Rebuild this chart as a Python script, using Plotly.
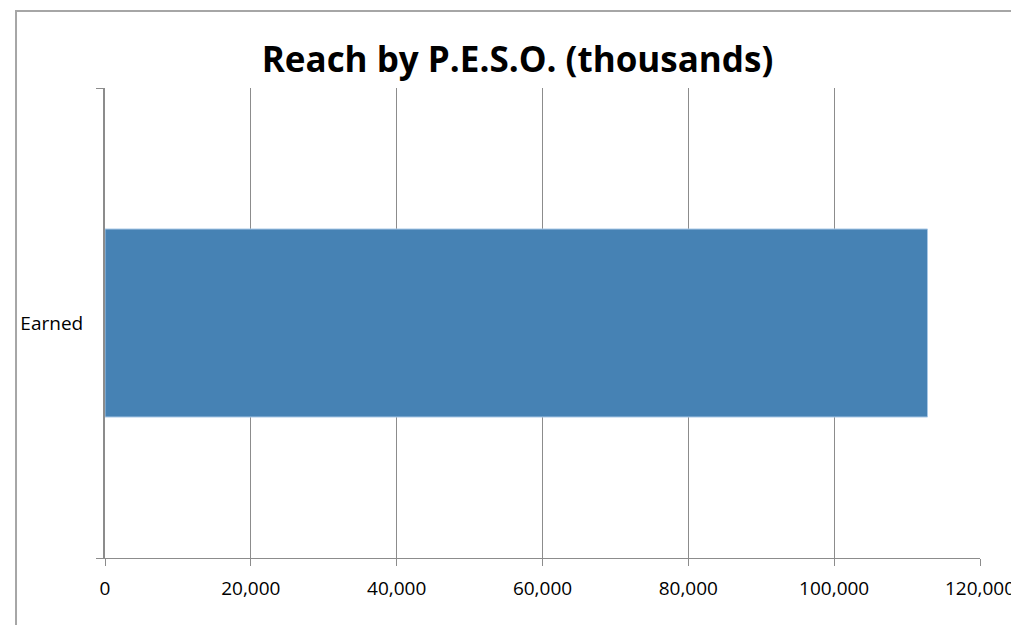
import plotly.graph_objects as go

categories = ["Earned"]
values = [112800]
tick_vals = [0, 20000, 40000, 60000, 80000, 100000, 120000]
tick_text = ["0", "20,000", "40,000", "60,000", "80,000", "100,000", "120,000"]

W, H = 1019, 625
L, R, T, B = 95, 39, 80, 75
pw, ph = W - L - R, H - T - B

fig = go.Figure(go.Bar(
    x=values, y=categories, orientation="h",
    marker=dict(color="#4682B4", line=dict(color="#A9C8E6", width=1)),
    hoverinfo="x+y",
))

def px_x(p):
    return (p - L) / pw

def px_y(p):
    return (H - B - p) / ph

fig.update_layout(
    width=W, height=H,
    margin=dict(l=L, r=R, t=T, b=B),
    paper_bgcolor="white", plot_bgcolor="white",
    bargap=0.6,
    showlegend=False,
    font=dict(family="Open Sans, Liberation Sans, sans-serif", size=19, color="black"),
    title=dict(text="<b>Reach by P.E.S.O. (thousands)</b>", x=0.5, xanchor="center",
               y=1 - 52 / H, yanchor="middle",
               font=dict(family="Open Sans, Liberation Sans, sans-serif", size=35, color="black")),
    xaxis=dict(range=[0, 120000], tickvals=tick_vals, ticktext=tick_text,
               showgrid=True, gridcolor="#8C8C8C", gridwidth=1,
               showline=True, linecolor="#8C8C8C", linewidth=1,
               ticks="outside", ticklen=7, tickcolor="#8C8C8C",
               zeroline=False, fixedrange=True, ticklabelstandoff=6,
               tickfont=dict(size=19)),
    yaxis=dict(showgrid=False, showline=True, linecolor="#8C8C8C", linewidth=2,
               ticks="outside", tickson="boundaries", ticklen=7, tickcolor="#8C8C8C",
               zeroline=False, fixedrange=True, ticklabelstandoff=16,
               tickfont=dict(size=19)),
    shapes=[dict(type="rect", xref="paper", yref="paper",
                 x0=px_x(5), x1=px_x(W + 10), y0=px_y(H + 10), y1=px_y(3),
                 line=dict(color="#A6A6A6", width=2), fillcolor="rgba(0,0,0,0)",
                 layer="below")],
)

fig.write_html("out.html")
